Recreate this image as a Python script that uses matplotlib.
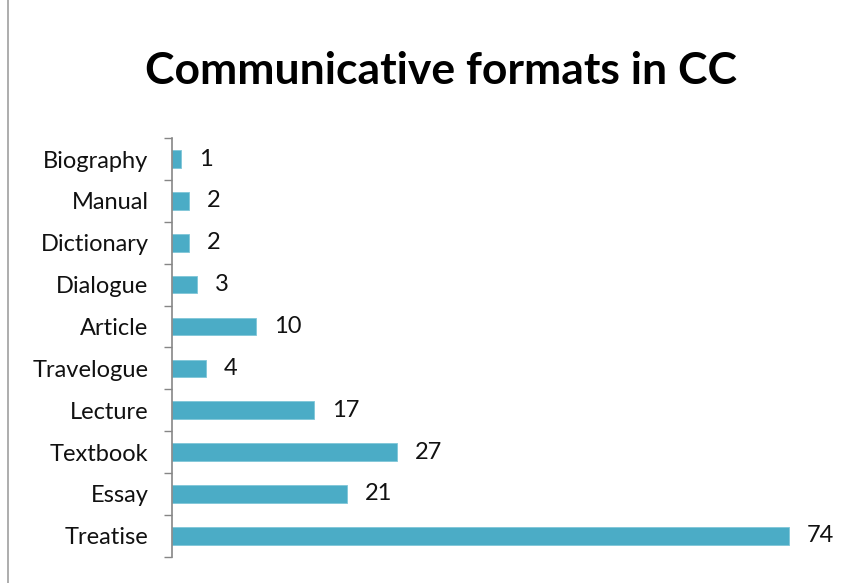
import matplotlib
matplotlib.use("Agg")
import matplotlib.pyplot as plt
import numpy as np

# 数据：自下而上
categories = ["Treatise", "Essay", "Textbook", "Lecture", "Travelogue",
              "Article", "Dialogue", "Dictionary", "Manual", "Biography"]
counts = [74, 21, 27, 17, 4, 10, 3, 2, 2, 1]
title = "Communicative formats in CC"

plt.rcParams["font.family"] = ["Lato", "DejaVu Sans"]

fig = plt.figure(figsize=(8.61, 5.83), dpi=100)
ax = fig.add_axes([0.2, 0.045, 0.774, 0.718])

y = np.arange(len(categories))
ax.barh(y, counts, height=0.42, color="#4BACC6", edgecolor="#7FC6D8", linewidth=0.6)
for yi, v in zip(y, counts):
    ax.annotate(f"{v}", (v, yi), xytext=(13, 0), textcoords="offset points",
                ha="left", va="center", fontsize=17, color="#111111")

ax.set_xlim(0, 80)
ax.set_ylim(-0.5, len(categories) - 0.5)
ax.set_yticks(y)
ax.set_yticklabels(categories, fontsize=17, color="#111111")
ax.tick_params(axis="y", which="major", length=0, pad=17)
ax.set_yticks(np.arange(-0.5, len(categories)), minor=True)
ax.tick_params(axis="y", which="minor", length=6, color="#868686", width=1)
ax.set_xticks([])
for s in ["top", "right", "bottom"]:
    ax.spines[s].set_visible(False)
ax.spines["left"].set_color("#868686")
ax.spines["left"].set_linewidth(1.2)

fig.text(0.512, 0.878, title, ha="center", va="center", fontsize=32,
         fontweight="bold", color="#000000")

# 左侧灰色边框线
fig.add_artist(plt.Line2D([0.009, 0.009], [0.0, 1.0], color="#A0A0A0", lw=1.2))

fig.savefig("out.png", dpi=100)
